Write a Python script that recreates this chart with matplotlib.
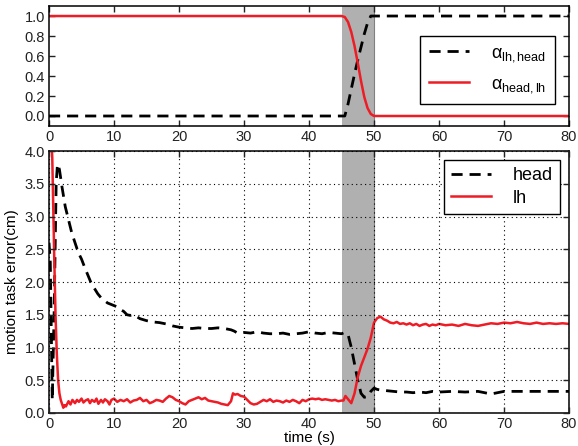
import numpy as np
import matplotlib.pyplot as plt

plt.rcParams['font.family'] = ['Liberation Sans', 'DejaVu Sans']
plt.rcParams['mathtext.fontset'] = 'custom'
plt.rcParams['mathtext.rm'] = 'Liberation Sans'
plt.rcParams['mathtext.it'] = 'Liberation Sans'

# switching weights (top panel)
alpha_t = [0, 45, 45.5, 46, 46.5, 47, 47.5, 48, 48.5, 49, 49.5, 50, 80]
alpha_head_lh = [1.0, 1.0, 0.99, 0.94, 0.84, 0.70, 0.53, 0.35, 0.19, 0.08, 0.02, 0.0, 0.0]
alpha_lh_head = [0.0, 0.0, 0.0, 0.12, 0.27, 0.42, 0.56, 0.69, 0.82, 0.93, 1.0, 1.0, 1.0]

# motion task error, head
head_t = [0, 0.2, 0.5, 0.8, 1.1, 1.3, 1.6, 2.0, 2.5, 3.0, 3.5, 4.0, 4.5, 5.0, 5.5,
          6.0, 6.5, 7.0, 7.5, 8.0, 8.5, 9.0, 9.5, 10, 10.5, 11, 11.5, 12, 12.5, 13,
          13.5, 14, 15, 16, 17, 18, 19, 20, 21, 22, 23, 24, 25, 26, 27, 28, 28.5,
          29, 30, 31, 32, 33, 34, 35, 36, 37, 38, 39, 40, 41, 42, 43, 44, 45, 45.5,
          46, 46.5, 47, 47.5, 48, 48.5, 49, 49.5, 50, 50.5, 51, 52, 53, 54, 55, 56,
          57, 58, 59, 60, 62, 64, 66, 67, 68, 69, 70, 72, 74, 76, 78, 80]
head_v = [2.6, 2.3, 0.2, 1.6, 3.5, 3.8, 3.72, 3.45, 3.15, 2.95, 2.75, 2.6, 2.45, 2.35, 2.22,
          2.1, 1.98, 1.9, 1.82, 1.76, 1.72, 1.68, 1.66, 1.64, 1.62, 1.58, 1.55, 1.5, 1.49, 1.5,
          1.47, 1.44, 1.41, 1.39, 1.38, 1.36, 1.33, 1.31, 1.3, 1.29, 1.3, 1.29, 1.29, 1.3, 1.29, 1.27, 1.25,
          1.22, 1.23, 1.22, 1.24, 1.22, 1.21, 1.21, 1.22, 1.2, 1.21, 1.22, 1.24, 1.22, 1.21, 1.23, 1.22, 1.21, 1.23,
          1.2, 1.0, 0.75, 0.5, 0.3, 0.24, 0.25, 0.33, 0.38, 0.36, 0.35, 0.34, 0.33, 0.32, 0.32, 0.31,
          0.32, 0.31, 0.33, 0.32, 0.33, 0.32, 0.33, 0.31, 0.29, 0.31, 0.33, 0.33, 0.33, 0.33, 0.33, 0.33]

# motion task error, left hand
lh_t = [0, 0.3, 0.5, 0.8, 1.0, 1.2, 1.4, 1.6, 1.8, 2.0, 2.2, 2.4, 2.6, 2.8, 3.0, 3.3, 3.6,
        4.0, 4.3, 4.6, 5.0, 5.3, 5.6, 6.0, 6.3, 6.6, 7.0, 7.3, 7.6, 8.0, 8.3, 8.6, 9.0,
        9.3, 9.6, 10, 10.5, 11, 11.5, 12, 12.5, 13, 13.5, 14, 14.5, 15, 15.5, 16, 16.5,
        17, 17.5, 18, 18.5, 19, 19.5, 20, 20.5, 21, 21.5, 22, 22.5, 23, 23.5, 24, 24.5,
        25, 25.5, 26, 26.5, 27, 27.5, 28, 28.3, 28.6, 29, 29.5, 30, 30.5, 31, 31.5, 32,
        32.5, 33, 33.5, 34, 34.5, 35, 35.5, 36, 36.5, 37, 37.5, 38, 38.5, 39, 39.5, 40,
        40.5, 41, 41.5, 42, 42.5, 43, 43.5, 44, 44.5, 45, 45.3, 45.6, 46, 46.5, 47, 47.5,
        48, 48.5, 49, 49.5, 50, 50.5, 51, 51.5, 52, 52.5, 53, 53.5, 54, 54.5, 55, 55.5,
        56, 56.5, 57, 57.5, 58, 58.5, 59, 59.5, 60, 61, 62, 63, 64, 65, 66, 67, 68, 69,
        70, 71, 72, 73, 74, 75, 76, 77, 78, 79, 80]
lh_v = [4.6, 4.3, 3.9, 2.4, 1.5, 0.9, 0.5, 0.3, 0.2, 0.14, 0.08, 0.12, 0.1, 0.14, 0.18, 0.13, 0.2,
        0.15, 0.2, 0.17, 0.22, 0.16, 0.19, 0.21, 0.15, 0.2, 0.17, 0.22, 0.14, 0.2, 0.16, 0.21, 0.18,
        0.13, 0.2, 0.22, 0.17, 0.2, 0.18, 0.21, 0.16, 0.19, 0.2, 0.23, 0.18, 0.2, 0.15, 0.17, 0.2,
        0.19, 0.17, 0.22, 0.26, 0.24, 0.2, 0.18, 0.15, 0.13, 0.18, 0.2, 0.22, 0.24, 0.21, 0.23, 0.19,
        0.18, 0.17, 0.16, 0.14, 0.13, 0.12, 0.18, 0.3, 0.28, 0.29, 0.26, 0.25, 0.2, 0.15, 0.13, 0.14,
        0.17, 0.2, 0.18, 0.21, 0.17, 0.19, 0.18, 0.16, 0.19, 0.17, 0.2, 0.18, 0.15, 0.2, 0.18, 0.21,
        0.22, 0.21, 0.22, 0.2, 0.21, 0.2, 0.19, 0.2, 0.18, 0.19, 0.19, 0.26, 0.21, 0.15, 0.3, 0.55,
        0.72, 0.85, 0.98, 1.15, 1.38, 1.45, 1.47, 1.43, 1.41, 1.38, 1.37, 1.39, 1.36, 1.37, 1.35, 1.37,
        1.34, 1.36, 1.33, 1.35, 1.36, 1.33, 1.35, 1.34, 1.36, 1.34, 1.35, 1.33, 1.36, 1.34, 1.33, 1.35, 1.37, 1.36,
        1.38, 1.37, 1.39, 1.37, 1.36, 1.38, 1.36, 1.37, 1.36, 1.37, 1.36]

switch_start, switch_end = 45, 50
red = '#ee1c25'
band = '#b0b0b0'

fig = plt.figure(figsize=(5.78, 4.46), dpi=100)
ax1 = fig.add_axes([0.0848, 0.7175, 0.8997, 0.269])
ax2 = fig.add_axes([0.0848, 0.074, 0.8997, 0.5874])

for ax in (ax1, ax2):
    ax.axvspan(switch_start, switch_end, color=band, lw=0, zorder=0)
    ax.axvline(switch_end, color='#808080', lw=0.8, zorder=0.5)
    ax.set_xlim(0, 80)
    ax.set_xticks(np.arange(0, 81, 10))
    ax.tick_params(direction='in', top=True, right=True, labelsize=10.5, length=4,
                   width=1, colors='#222222', pad=3)
    for s in ax.spines.values():
        s.set_linewidth(1.1)

ax1.plot(alpha_t, alpha_lh_head, color='k', lw=2, dashes=(4, 2.5),
         label=r'$\alpha_{\mathrm{lh,head}}$')
ax1.plot(alpha_t, alpha_head_lh, color=red, lw=1.8, label=r'$\alpha_{\mathrm{head,lh}}$')
ax1.set_ylim(-0.1, 1.1)
ax1.set_yticks(np.arange(0, 1.01, 0.2))
ax1.set_yticklabels(['%.1f' % v for v in np.arange(0, 1.01, 0.2)])
leg1 = ax1.legend(loc='center right', bbox_to_anchor=(0.99, 0.47), fontsize=13,
                  fancybox=False, edgecolor='k', framealpha=1, handlelength=2.2,
                  handletextpad=1.2, borderpad=0.5, labelspacing=0.6)
leg1.get_frame().set_linewidth(1.0)

ax2.plot(head_t, head_v, color='k', lw=2, dashes=(4, 2.5), label='head')
ax2.plot(lh_t, lh_v, color=red, lw=1.8, label='lh')
ax2.set_ylim(0, 4)
ax2.set_yticks(np.arange(0, 4.01, 0.5))
ax2.grid(True, color='k', ls=(0, (1, 3)), lw=0.8)
ax2.set_axisbelow(False)
ax2.set_ylabel('motion task error(cm)', fontsize=11)
ax2.set_xlabel('time (s)', fontsize=11)
ax2.xaxis.set_label_coords(0.5, -0.068)
leg2 = ax2.legend(loc='upper right', fontsize=13, fancybox=False, edgecolor='k',
                  framealpha=1, handlelength=2.2, handletextpad=1.2, borderpad=0.4,
                  labelspacing=0.3)
leg2.get_frame().set_linewidth(1.0)

fig.savefig('out.png', dpi=100)
